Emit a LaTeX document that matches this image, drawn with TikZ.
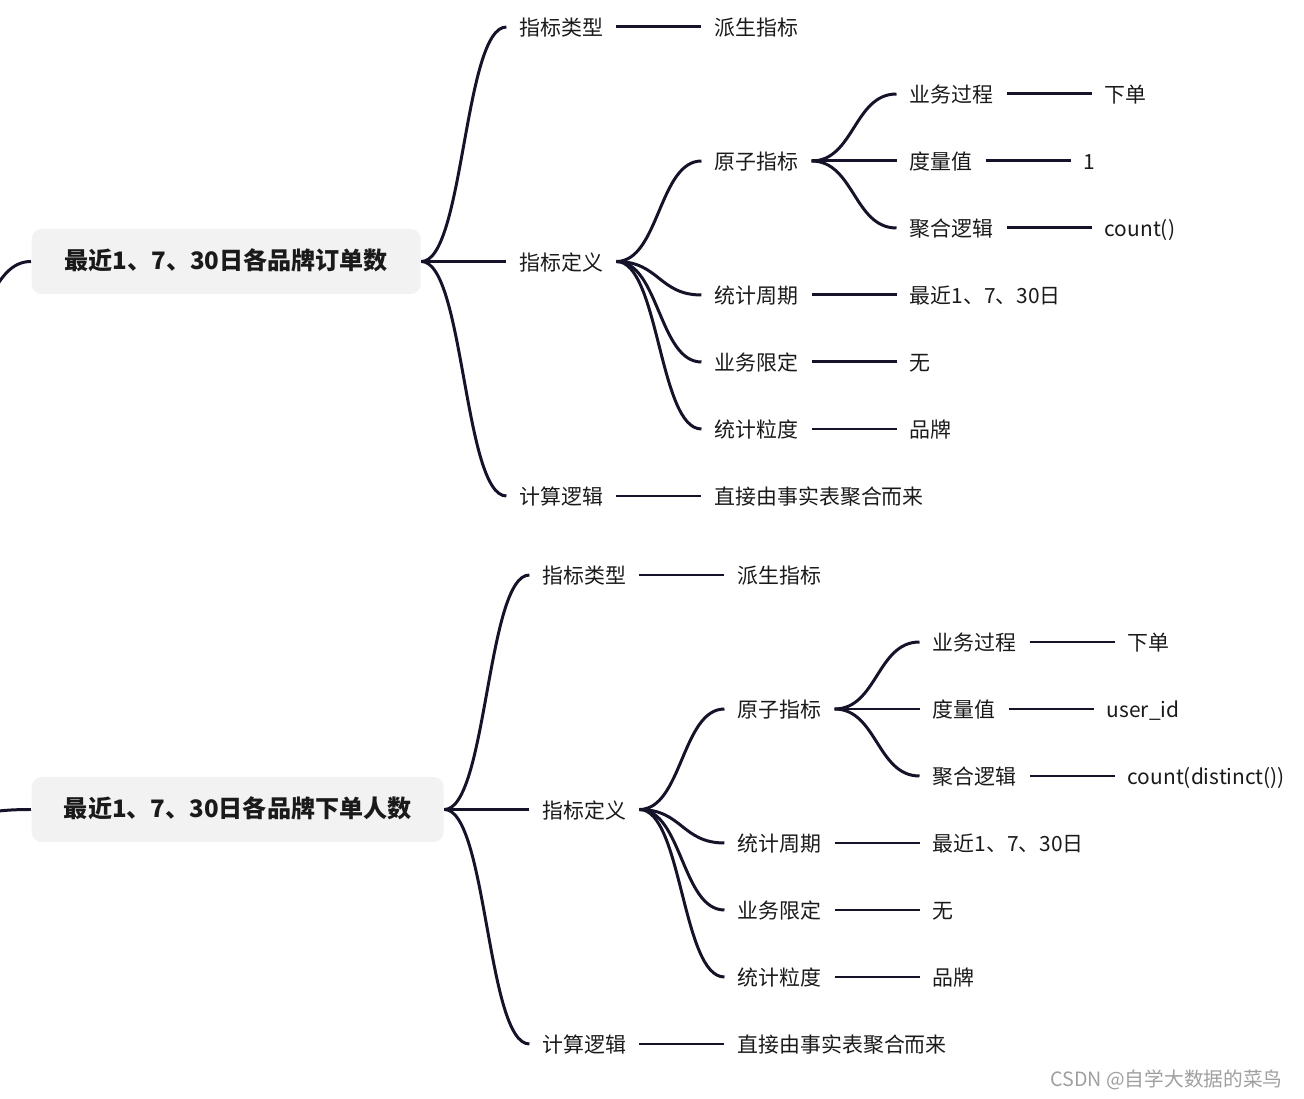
\documentclass[tikz,border=0pt]{standalone}
\usepackage{fontspec}
\setmainfont{Noto Sans CJK SC}
\usetikzlibrary{positioning,calc}
\definecolor{linkcol}{HTML}{15132A}
\definecolor{topicfill}{HTML}{F2F2F2}
\definecolor{textcol}{HTML}{1A1A1A}

\begin{document}
\begin{tikzpicture}[thick,
    topic/.style={rectangle, fill=topicfill, rounded corners=0.2cm, minimum height=1.3cm, anchor=west, text height=0.95em, text depth=0.03em, text=textcol, font=\fontsize{13.7pt}{16pt}\selectfont\bfseries},
    item/.style={inner xsep=0.25cm, inner ysep=0pt, text height=1.02em, text depth=0.02em, text=textcol, font=\fontsize{11.9pt}{14pt}\selectfont},
    link/.style={draw, line width=1.7pt, linkcol},
    branch/.style={to path={.. controls ($(\tikztostart)+(0.85,0)$) and ($(\tikztotarget)+(-0.85,0)$) .. (\tikztotarget)}},
    node distance=1.7cm]

    \useasboundingbox (0,0) rectangle (26.08,-21.98);

    % First Topic
    \node [topic, minimum width=7.78cm] (root1) at (0.62,-5.23) {最近1、7、30日各品牌订单数};
    \coordinate (in1) at (-1.08,-6.77);

    % Main Branches
    \node [item, right=of root1] (def1) {指标定义};
    \node [item, right=of root1, yshift=4.69cm] (type1) {指标类型};
    \node [item, right=of root1, yshift=-4.69cm] (calc1) {计算逻辑};

    % Definition Branches
    \node [item, right=of def1, yshift=2.01cm] (atom1) {原子指标};
    \node [item, right=of def1, yshift=-0.67cm] (period1) {统计周期};
    \node [item, right=of def1, yshift=-2.01cm] (limit1) {业务限定};
    \node [item, right=of def1, yshift=-3.35cm] (grain1) {统计粒度};

    % Atomic Branches
    \node [item, right=of atom1, yshift=1.34cm] (proc1) {业务过程};
    \node [item, right=of atom1] (meas1) {度量值};
    \node [item, right=of atom1, yshift=-1.34cm] (agg1) {聚合逻辑};

    % Leaves
    \node [item, right=of type1] (kind1) {派生指标};
    \node [item, right=of calc1] (how1) {直接由事实表聚合而来};
    \node [item, right=of proc1] (procv1) {下单};
    \node [item, right=of meas1] (measv1) {1};
    \node [item, right=of agg1] (aggv1) {count()};
    \node [item, right=of period1] (periodv1) {最近1、7、30日};
    \node [item, right=of limit1] (limitv1) {无};
    \node [item, right=of grain1] (grainv1) {品牌};

    % Second Topic
    \node [topic, minimum width=8.24cm] (root2) at (0.62,-16.19) {最近1、7、30日各品牌下单人数};
    \coordinate (in2) at (-1.08,-16.3);

    % Main Branches
    \node [item, right=of root2] (def2) {指标定义};
    \node [item, right=of root2, yshift=4.69cm] (type2) {指标类型};
    \node [item, right=of root2, yshift=-4.69cm] (calc2) {计算逻辑};

    % Definition Branches
    \node [item, right=of def2, yshift=2.01cm] (atom2) {原子指标};
    \node [item, right=of def2, yshift=-0.67cm] (period2) {统计周期};
    \node [item, right=of def2, yshift=-2.01cm] (limit2) {业务限定};
    \node [item, right=of def2, yshift=-3.35cm] (grain2) {统计粒度};

    % Atomic Branches
    \node [item, right=of atom2, yshift=1.34cm] (proc2) {业务过程};
    \node [item, right=of atom2] (meas2) {度量值};
    \node [item, right=of atom2, yshift=-1.34cm] (agg2) {聚合逻辑};

    % Leaves
    \node [item, right=of type2] (kind2) {派生指标};
    \node [item, right=of calc2] (how2) {直接由事实表聚合而来};
    \node [item, right=of proc2] (procv2) {下单};
    \node [item, right=of meas2] (measv2) {user\_id};
    \node [item, right=of agg2] (aggv2) {count(distinct())};
    \node [item, right=of period2] (periodv2) {最近1、7、30日};
    \node [item, right=of limit2] (limitv2) {无};
    \node [item, right=of grain2] (grainv2) {品牌};

    % Watermark
    \node [anchor=east, text=gray!75, font=\fontsize{11.2pt}{13pt}\selectfont] (mark) at (25.78,-21.6) {CSDN @自学大数据的菜鸟};

    % Paths
    \foreach \n in {1,2} {
        \path [link] (in\n) to[branch] (root\n.west);
        \path [link] (root\n.east) to[branch] (type\n.west);
        \path [link] (root\n.east) to[branch] (def\n.west);
        \path [link] (root\n.east) to[branch] (calc\n.west);
        \path [link] (def\n.east) to[branch] (atom\n.west);
        \path [link] (def\n.east) to[branch] (period\n.west);
        \path [link] (def\n.east) to[branch] (limit\n.west);
        \path [link] (def\n.east) to[branch] (grain\n.west);
        \path [link] (atom\n.east) to[branch] (proc\n.west);
        \path [link] (atom\n.east) to[branch] (meas\n.west);
        \path [link] (atom\n.east) to[branch] (agg\n.west);
        \path [link] (type\n) -- (kind\n);
        \path [link] (calc\n) -- (how\n);
        \path [link] (proc\n) -- (procv\n);
        \path [link] (meas\n) -- (measv\n);
        \path [link] (agg\n) -- (aggv\n);
        \path [link] (period\n) -- (periodv\n);
        \path [link] (limit\n) -- (limitv\n);
        \path [link] (grain\n) -- (grainv\n);
    }

\end{tikzpicture}
\end{document}
